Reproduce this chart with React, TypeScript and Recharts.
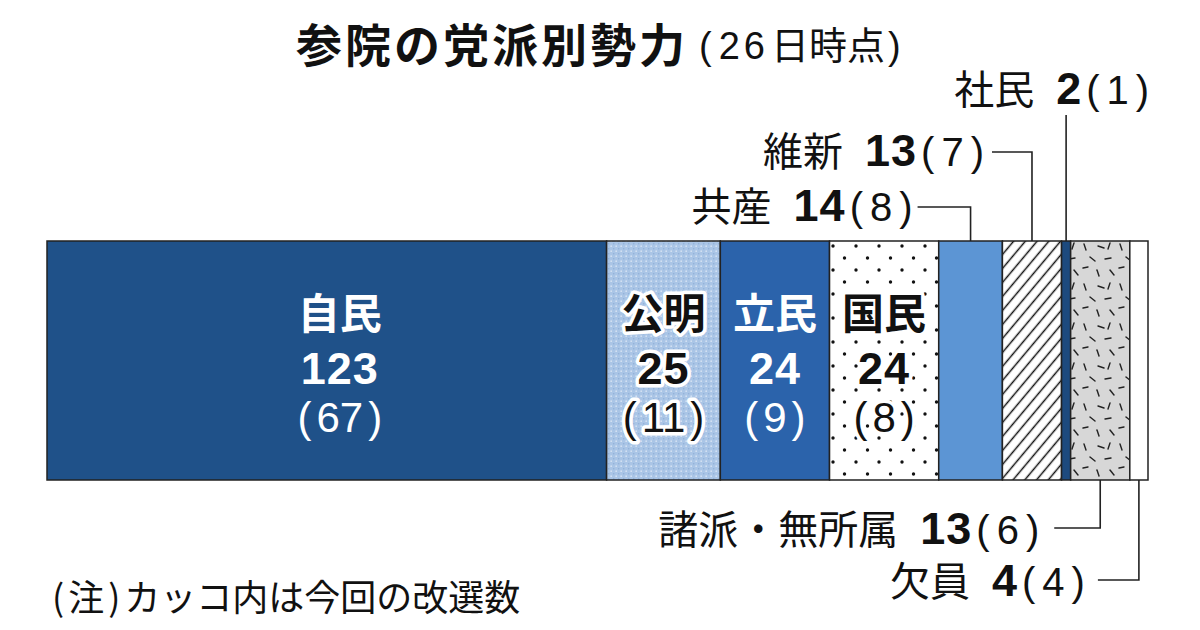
import React from "react";
import { BarChart, Bar, XAxis, YAxis } from "recharts";

const parties = ["自民", "公明", "立民", "国民", "共産", "維新", "社民", "諸派・無所属", "欠員"];
const seats = [123, 25, 24, 24, 14, 13, 2, 13, 4];
const reelected = [67, 11, 9, 8, 8, 7, 1, 6, 4];
const fills = [
  "#1f5189",
  "url(#komei)",
  "#2b63ab",
  "url(#dots)",
  "#5c95d4",
  "url(#hatch)",
  "#1d4a7e",
  "url(#confetti)",
  "#ffffff",
];

const FONT = '"Noto Sans CJK JP", "Noto Sans", sans-serif';
const NUM_FONT = '"Liberation Sans", Arial, sans-serif';
const total = seats.reduce((a, b) => a + b, 0);

const row: Record<string, string | number> = { house: "参院" };
parties.forEach((p, i) => {
  row[p] = seats[i];
});
const data = [row];

type Inside = { kind: "inside"; color: string; halo: boolean; dx: number };
type Callout = {
  kind: "top" | "bottom";
  elbowY: number;
  arm: number;
  gap: number;
  textX?: number;
  baseline: number;
};

// where each segment's label goes
const labelLayout: (Inside | Callout)[] = [
  { kind: "inside", color: "#fff", halo: false, dx: 13 },
  { kind: "inside", color: "#111", halo: true, dx: 0 },
  { kind: "inside", color: "#fff", halo: false, dx: 0 },
  { kind: "inside", color: "#111", halo: true, dx: 0 },
  { kind: "top", elbowY: 207, arm: 53, gap: 5, baseline: 221 },
  { kind: "top", elbowY: 152, arm: 40, gap: 8, baseline: 166 },
  { kind: "top", elbowY: 115, arm: 0, gap: 0, textX: 83, baseline: 104 },
  { kind: "bottom", elbowY: 528, arm: 46, gap: 15, baseline: 544 },
  { kind: "bottom", elbowY: 580, arm: 41, gap: 13, baseline: 596 },
];

// "(n)" with the brackets set a little apart from the figure
function bracketed(n: number, gap: number) {
  return (
    <>
      <tspan fontFamily={NUM_FONT}>(</tspan>
      <tspan fontFamily={NUM_FONT} dx={gap}>
        {n}
      </tspan>
      <tspan fontFamily={NUM_FONT} dx={gap}>
        )
      </tspan>
    </>
  );
}

function renderLabel(props: any, i: number) {
  const box = props.viewBox && typeof props.viewBox.width === "number" ? props.viewBox : props;
  const x = Number(box.x);
  const y = Number(box.y);
  const w = Number(box.width);
  const h = Number(box.height);
  const cx = x + w / 2;
  const lay = labelLayout[i];

  if (lay.kind === "inside") {
    const tx = cx + lay.dx;
    const halo = lay.halo
      ? { stroke: "#fff", strokeWidth: 7, strokeLinejoin: "round" as const, style: { paintOrder: "stroke" } }
      : {};
    // one text element, three lines
    return (
      <text
        key={`lab-${i}`}
        x={tx}
        y={y + 88}
        fontFamily={FONT}
        fill={lay.color}
        textAnchor="middle"
        {...halo}
      >
        <tspan x={tx} fontSize={42} fontWeight={700}>
          {parties[i]}
        </tspan>
        <tspan x={tx} dy={55} fontFamily={NUM_FONT} fontSize={45} fontWeight={700} letterSpacing={1}>
          {seats[i]}
        </tspan>
        <tspan x={tx} dy={48} fontSize={42}>
          {bracketed(reelected[i], 5)}
        </tspan>
      </text>
    );
  }

  const y0 = lay.kind === "top" ? y : y + h;
  const ex = cx - lay.arm;
  const pts = `${cx},${y0} ${cx},${lay.elbowY} ${ex},${lay.elbowY}`;
  const textX = lay.textX !== undefined ? cx + lay.textX : ex - lay.gap;
  return (
    <g key={`lab-${i}`}>
      <polyline points={pts} fill="none" stroke="#222" strokeWidth={1.6} />
      <text x={textX} y={lay.baseline} textAnchor="end" fontFamily={FONT} fontSize={40} fill="#111">
        <tspan>{parties[i]}</tspan>
        <tspan dx={22} fontFamily={NUM_FONT} fontWeight={700} fontSize={45} letterSpacing={1}>
          {seats[i]}
        </tspan>
        <tspan dx={4}>{bracketed(reelected[i], 7)}</tspan>
      </text>
    </g>
  );
}

function Patterns() {
  return (
    <svg width={0} height={0} style={{ position: "absolute" }}>
      <defs>
        <pattern id="komei" width={5} height={5} patternUnits="userSpaceOnUse">
          <rect width={5} height={5} fill="#aac5e6" />
          <circle cx={1.2} cy={1.2} r={0.9} fill="#d3e1f3" />
          <circle cx={3.7} cy={3.7} r={0.8} fill="#90b0d9" />
        </pattern>
        <pattern id="dots" width={23} height={24} patternUnits="userSpaceOnUse">
          <rect width={23} height={24} fill="#fff" />
          <circle cx={5} cy={6} r={1.7} fill="#111" />
          <circle cx={16.5} cy={18} r={1.7} fill="#111" />
        </pattern>
        <pattern id="hatch" width={9} height={9} patternUnits="userSpaceOnUse" patternTransform="rotate(40)">
          <rect width={9} height={9} fill="#fff" />
          <line x1={4.5} y1={0} x2={4.5} y2={9} stroke="#111" strokeWidth={1.5} />
        </pattern>
        <pattern id="confetti" width={36} height={40} patternUnits="userSpaceOnUse">
          <rect width={36} height={40} fill="#d7d7d7" />
          <g stroke="#222" strokeWidth={1.4} strokeLinecap="round">
            <line x1={4} y1={4} x2={6} y2={10} />
            <line x1={18} y1={6} x2={24} y2={8} />
            <line x1={30} y1={3} x2={28} y2={9} />
            <line x1={10} y1={17} x2={15} y2={21} />
            <line x1={25} y1={19} x2={31} y2={18} />
            <line x1={3} y1={28} x2={8} y2={27} />
            <line x1={17} y1={30} x2={19} y2={36} />
            <line x1={30} y1={30} x2={34} y2={35} />
          </g>
        </pattern>
      </defs>
    </svg>
  );
}

export default function App() {
  return (
    <div
      style={{
        position: "absolute",
        top: 0,
        left: 0,
        width: 1200,
        height: 630,
        background: "#fff",
        fontFamily: FONT,
      }}
    >
      <Patterns />
      <BarChart
        width={1200}
        height={630}
        data={data}
        layout="vertical"
        margin={{ top: 241, right: 52, bottom: 150, left: 47 }}
        barCategoryGap={0}
      >
        <XAxis type="number" domain={[0, total]} hide />
        <YAxis type="category" dataKey="house" hide />
        {parties.map((p, i) => (
          <Bar
            key={p}
            dataKey={p}
            stackId="seats"
            fill={fills[i]}
            stroke="#222"
            strokeWidth={1.5}
            isAnimationActive={false}
            label={(props: any) => renderLabel(props, i)}
          />
        ))}
      </BarChart>
      <svg
        width={1200}
        height={630}
        style={{ position: "absolute", top: 0, left: 0, pointerEvents: "none" }}
      >
        <text x={296} y={62} fontFamily={FONT} fontSize={46} fontWeight={700} letterSpacing={3} fill="#111">
          参院の党派別勢力
        </text>
        <text x={699} y={59} fontFamily={FONT} fontSize={38} fill="#111">
          <tspan fontFamily={NUM_FONT}>(</tspan>
          <tspan fontFamily={NUM_FONT} dx={7} letterSpacing={4}>
            26
          </tspan>
          <tspan dx={2}>日時点</tspan>
          <tspan dx={3} fontFamily={NUM_FONT}>
            )
          </tspan>
        </text>
        <text x={52} y={611} fontFamily={FONT} fontSize={36} fill="#111">
          <tspan letterSpacing={4}>(注)</tspan>
          <tspan>カッコ内は今回の改選数</tspan>
        </text>
      </svg>
    </div>
  );
}
